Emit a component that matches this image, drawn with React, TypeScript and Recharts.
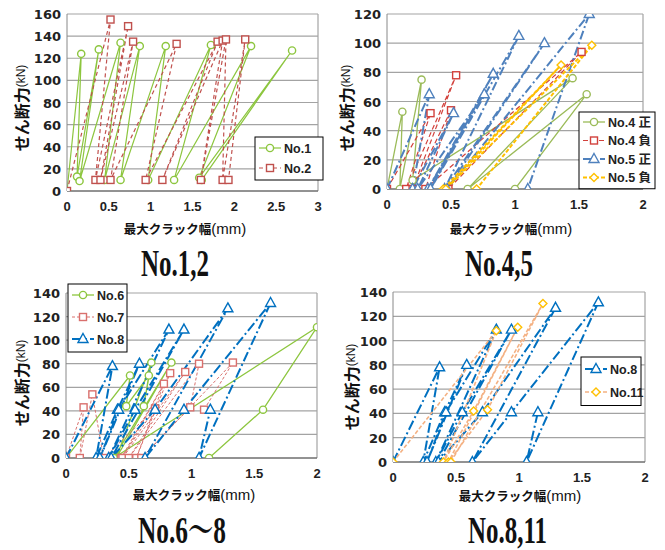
import React from "react";
import { LineChart, Line, XAxis, YAxis, CartesianGrid, ReferenceLine } from "recharts";

// [crack width (mm), shear force (kN)] in loading order
const no1 = [[0, 0], [0.17, 124], [0.12, 13], [0.38, 128], [0.15, 9], [0.64, 134], [0.45, 10], [0.87, 131], [0.64, 10], [1.18, 131], [0.97, 10], [1.72, 132], [1.28, 10], [2.2, 131], [1.58, 12], [2.69, 127], [1.61, 10]];
const no2 = [[0, 0], [0.52, 155], [0.34, 10], [0.73, 149], [0.4, 10], [0.79, 135], [0.52, 10], [1.31, 133], [0.94, 10], [1.8, 135], [1.14, 10], [1.86, 136], [1.6, 10], [1.9, 137], [1.86, 10], [2.13, 137], [1.93, 10]];
const no4p = [[0, 0], [0.12, 53], [0.1, 0], [0.27, 75], [0.2, 6], [1.45, 76], [0.63, 0], [1.56, 65], [1.0, 0]];
const no4n = [[0, 0], [0.34, 52], [0.15, 0], [0.54, 78], [0.2, 0], [0.5, 54], [0.3, 0], [1.52, 94], [0.48, 0]];
const no5p = [[0, 0], [0.33, 65], [0.2, 0], [0.52, 52], [0.24, 0], [0.76, 65], [0.32, 0], [0.83, 79], [0.34, 0], [1.03, 105], [0.45, 0], [1.23, 100], [0.47, 0], [1.58, 120], [1.1, 0]];
const no5n = [[0.44, 0], [1.36, 85], [0.46, 0], [1.6, 98.5], [0.7, 0]];
const no6 = [[0, 0], [0.51, 70], [0.48, 44], [0.66, 70], [0.62, 44], [0.68, 81], [0.4, 0], [0.84, 81], [0.38, 0], [2.0, 111], [1.57, 41], [1.14, 0]];
const no7 = [[0, 0], [0.14, 43], [0.11, 0], [0.21, 54], [0.3, 0], [0.71, 42], [0.44, 0], [0.78, 63], [0.56, 0], [0.83, 72], [0.45, 0], [0.95, 73], [0.5, 0], [1.06, 80], [0.99, 43], [0.6, 0], [1.33, 81], [1.1, 41]];
const no8 = [[0, 0], [0.37, 78], [0.24, 0], [0.41, 41], [0.585, 80], [0.27, 0], [0.42, 41], [0.82, 109], [0.34, 0], [0.55, 41], [0.94, 109], [0.36, 0], [0.71, 41], [1.29, 127], [0.63, 0], [0.94, 41], [1.63, 131.5], [1.06, 0], [1.15, 41]];
const no11 = [[0, 0], [0.82, 108], [0.4, 0], [0.64, 42], [0.99, 111], [0.44, 0], [0.75, 43], [1.19, 130.5], [0.46, 0]];

const ticks3 = [0, 0.5, 1, 1.5, 2, 2.5, 3];
const ticks2 = [0, 0.5, 1, 1.5, 2];
const yTicks160 = [0, 20, 40, 60, 80, 100, 120, 140, 160];
const yTicks120 = [0, 20, 40, 60, 80, 100, 120];
const yTicks140 = [0, 20, 40, 60, 80, 100, 120, 140];

const toPts = (a: number[][]) => a.map(([x, y]) => ({ x, y }));

type Shape = "circle" | "square" | "triangle" | "diamond";
type Series = {
  name: string;
  data: number[][];
  color: string;
  markColor?: string;
  width: number;
  dash?: string;
  shape: Shape;
};

const S1: Series[] = [
  { name: "No.1", data: no1, color: "#8dc63f", width: 1.2, shape: "circle" },
  { name: "No.2", data: no2, color: "#c0504d", width: 1.2, dash: "4 3", shape: "square" },
];
const S2: Series[] = [
  { name: "No.4 正", data: no4p, color: "#9bbb59", width: 1.3, shape: "circle" },
  { name: "No.4 負", data: no4n, color: "#d2413c", width: 1.2, dash: "5 3", shape: "square" },
  { name: "No.5 正", data: no5p, color: "#4f81bd", width: 2, dash: "9 3 2 3", shape: "triangle" },
  { name: "No.5 負", data: no5n, color: "#ffc000", width: 2, dash: "4 2", shape: "diamond" },
];
const S3: Series[] = [
  { name: "No.6", data: no6, color: "#8dc63f", width: 1.3, shape: "circle" },
  { name: "No.7", data: no7, color: "#d9706d", width: 1, dash: "3 2", shape: "square" },
  { name: "No.8", data: no8, color: "#0070c0", width: 2, dash: "10 3 2 3", shape: "triangle" },
];
const S4: Series[] = [
  { name: "No.8", data: no8, color: "#0070c0", width: 2, dash: "10 3 2 3", shape: "triangle" },
  { name: "No.11", data: no11, color: "#f4b183", markColor: "#ffc000", width: 1.6, dash: "4 2", shape: "diamond" },
];

function Marker({ cx, cy, shape, color }: { cx: number; cy: number; shape: Shape; color: string }) {
  const common = { fill: "#fff", stroke: color, strokeWidth: 1.4 };
  if (shape === "circle") return <circle cx={cx} cy={cy} r={3.6} {...common} />;
  if (shape === "square") return <rect x={cx - 3.5} y={cy - 3.5} width={7} height={7} {...common} />;
  if (shape === "triangle")
    return <path d={`M${cx},${cy - 5.5}L${cx + 5},${cy + 3.5}L${cx - 5},${cy + 3.5}Z`} {...common} />;
  return <path d={`M${cx},${cy - 4}L${cx + 4},${cy}L${cx},${cy + 4}L${cx - 4},${cy}Z`} {...common} />;
}

const XTick = (p: any) => (
  <text x={p.x} y={p.y + 12} textAnchor="middle" fontFamily="Liberation Sans, Arial" fontWeight="bold" fontSize={13} fill="#222">
    {p.payload.value}
  </text>
);
const YTick = (p: any) => (
  <text x={p.x + 2} y={p.y + 5} textAnchor="end" fontFamily="DejaVu Sans" fontWeight="bold" fontSize={13} fill="#222">
    {p.payload.value}
  </text>
);

type PanelProps = {
  left: number;
  top: number;
  height: number;
  mTop: number;
  mRight: number;
  yWidth: number;
  xMax: number;
  xTicks: number[];
  yMax: number;
  yTicks: number[];
  series: Series[];
};

function Panel(p: PanelProps) {
  return (
    <div style={{ position: "absolute", left: p.left, top: p.top }}>
      <LineChart width={330} height={p.height + 10} margin={{ top: p.mTop, right: p.mRight, left: 0, bottom: 0 }}>
        <CartesianGrid vertical={false} stroke="#a3a3a3" strokeWidth={1.2} />
        <XAxis
          type="number"
          dataKey="x"
          domain={[0, p.xMax]}
          ticks={p.xTicks}
          interval={0}
          height={34}
          tick={XTick}
          tickLine={false}
          axisLine={{ stroke: "#555" }}
          allowDataOverflow
        />
        <YAxis
          type="number"
          dataKey="y"
          domain={[0, p.yMax]}
          ticks={p.yTicks}
          interval={0}
          width={p.yWidth}
          tick={YTick}
          tickLine={false}
          axisLine={{ stroke: "#888" }}
          allowDataOverflow
        />
        <ReferenceLine x={p.xMax} stroke="#a3a3a3" strokeWidth={1.2} />
        {p.series.map((s) => (
          <Line
            key={s.name}
            data={toPts(s.data)}
            dataKey="y"
            type="linear"
            stroke={s.color}
            strokeWidth={s.width}
            strokeDasharray={s.dash}
            isAnimationActive={false}
            activeDot={false}
            dot={(d: any) => (
              <Marker key={`${s.name}-${d.index}`} cx={d.cx} cy={d.cy} shape={s.shape} color={s.markColor ?? s.color} />
            )}
          />
        ))}
      </LineChart>
    </div>
  );
}

function LegendBox({ x, y, w, rows, series }: { x: number; y: number; w: number; rows: number[]; series: Series[] }) {
  const h = rows[rows.length - 1] - y + (rows[1] - rows[0]) / 2 + 2;
  return (
    <g>
      <rect x={x} y={y} width={w} height={h} fill="#fff" stroke="#000" strokeWidth={1} />
      {series.map((s, i) => (
        <g key={s.name}>
          <line x1={x + 4} x2={x + 26} y1={rows[i]} y2={rows[i]} stroke={s.color} strokeWidth={s.width} strokeDasharray={s.dash} />
          <Marker cx={x + 15} cy={rows[i]} shape={s.shape} color={s.markColor ?? s.color} />
          <text x={x + 29} y={rows[i] + 4.5} fontFamily="Liberation Sans, Noto Sans CJK JP" fontWeight="bold" fontSize={12.5} fill="#222">
            {s.name}
          </text>
        </g>
      ))}
    </g>
  );
}

function YTitle({ cx, cy }: { cx: number; cy: number }) {
  return (
    <text transform={`translate(${cx},${cy}) rotate(-90)`} textAnchor="middle" dominantBaseline="central" fill="#111">
      <tspan fontFamily="Noto Sans CJK JP" fontWeight="bold" fontSize={16}>せん断力</tspan>
      <tspan fontFamily="Liberation Sans" fontSize={12}>(kN)</tspan>
    </text>
  );
}

function XTitle({ cx, cy }: { cx: number; cy: number }) {
  return (
    <text x={cx} y={cy + 4.5} textAnchor="middle" fill="#111">
      <tspan fontFamily="Noto Sans CJK JP" fontWeight="bold" fontSize={12.5}>最大クラック幅</tspan>
      <tspan fontFamily="Liberation Sans" fontSize={15}>(mm)</tspan>
    </text>
  );
}

function Title({ x, y, w, label }: { x: number; y: number; w: number; label: string }) {
  return (
    <text x={x} y={y} textLength={w} lengthAdjust="spacingAndGlyphs" fontFamily="Liberation Serif, Noto Serif CJK JP" fontWeight="bold" fontSize={38} fill="#111">
      {label}
    </text>
  );
}

export default function App() {
  return (
    <div style={{ position: "absolute", left: 0, top: 0, width: 665, height: 550, background: "#fff" }}>
      <Panel left={0} top={0} height={215} mTop={14} mRight={12} yWidth={67} xMax={3} xTicks={ticks3} yMax={160} yTicks={yTicks160} series={S1} />
      <Panel left={330} top={0} height={213} mTop={14} mRight={17} yWidth={57} xMax={2} xTicks={ticks2} yMax={120} yTicks={yTicks120} series={S2} />
      <Panel left={0} top={270} height={212} mTop={23} mRight={13} yWidth={66} xMax={2} xTicks={ticks2} yMax={140} yTicks={yTicks140} series={S3} />
      <Panel left={330} top={270} height={216} mTop={22} mRight={15} yWidth={63} xMax={2} xTicks={ticks2} yMax={140} yTicks={yTicks140} series={S4} />
      <svg width={665} height={550} style={{ position: "absolute", left: 0, top: 0, pointerEvents: "none" }}>
        <LegendBox x={255} y={137} w={68} rows={[148, 168]} series={S1} />
        <LegendBox x={579} y={112} w={76} rows={[122, 140.5, 159, 177.5]} series={S2} />
        <LegendBox x={68} y={284} w={59} rows={[295, 317, 339]} series={S3} />
        <LegendBox x={581} y={357} w={60} rows={[369, 392]} series={S4} />
        <YTitle cx={21} cy={108} />
        <YTitle cx={346} cy={108} />
        <YTitle cx={21} cy={383} />
        <YTitle cx={351} cy={387} />
        <XTitle cx={185} cy={229} />
        <XTitle cx={511} cy={229} />
        <XTitle cx={194} cy={495} />
        <XTitle cx={520} cy={496} />
        <Title x={141} y={276} w={68} label="No.1,2" />
        <Title x={465} y={276} w={68} label="No.4,5" />
        <Title x={138} y={543} w={88} label="No.6〜8" />
        <Title x={468} y={543} w={79} label="No.8,11" />
      </svg>
    </div>
  );
}
